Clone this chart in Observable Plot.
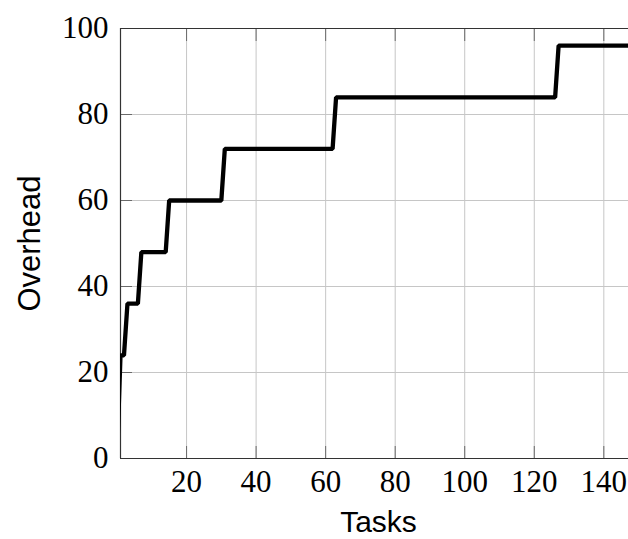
<!DOCTYPE html>
<html>
<head>
<meta charset="utf-8">
<script src="https://cdn.jsdelivr.net/npm/d3@7"></script>
<script src="https://cdn.jsdelivr.net/npm/@observablehq/plot@0.6"></script>
<style>
  html, body { margin: 0; padding: 0; background: #fff; }
  #chart svg { display: block; }
</style>
</head>
<body>
<div id="chart"></div>
<script>
// Step curve: overhead per number of tasks
const tasks    = [0, 1, 2, 3, 6, 7, 14, 15, 30, 31, 62, 63, 126, 127, 150];
const overhead = [0, 24, 24, 36, 36, 48, 48, 60, 60, 72, 72, 84, 84, 96, 96];

const xTicks = [20, 40, 60, 80, 100, 120, 140];
const yTicks = [0, 20, 40, 60, 80, 100];
const yInner = [20, 40, 60, 80];

const rows = tasks.map((t, i) => ({tasks: t, overhead: overhead[i]}));

const serif = "'Liberation Serif', 'DejaVu Serif', serif";
const sans = "'Liberation Sans', Arial, sans-serif";
const frameColor = "#333";
const tickColor = "#6a6a6a";
const tickLen = 12;

const chart = Plot.plot({
  width: 628,
  height: 539,
  marginLeft: 120,
  marginRight: 0,
  marginTop: 28,
  marginBottom: 81,
  style: {background: "#fff", overflow: "visible"},
  x: {domain: [1, 147.1], label: null},
  y: {domain: [0, 100], label: null},
  marks: [
    // grid
    Plot.gridX(xTicks, {stroke: "#c6c6c6", strokeOpacity: 1, strokeWidth: 1}),
    Plot.gridY(yInner, {stroke: "#c6c6c6", strokeOpacity: 1, strokeWidth: 1}),
    // inward ticks on bottom, top and left (shifted back inside the frame)
    Plot.axisX(xTicks, {anchor: "bottom", tickSize: tickLen, dy: -tickLen, text: null, label: null, stroke: tickColor, strokeWidth: 1}),
    Plot.axisX(xTicks, {anchor: "top", tickSize: tickLen, dy: tickLen, text: null, label: null, stroke: tickColor, strokeWidth: 1}),
    Plot.axisY(yInner, {anchor: "left", tickSize: tickLen, dx: tickLen, text: null, label: null, stroke: tickColor, strokeWidth: 1}),
    // tick labels
    Plot.axisX(xTicks, {anchor: "bottom", tickSize: 0, tickPadding: 11, fontSize: 31, fontFamily: serif, fill: "#000", label: null}),
    Plot.axisY(yTicks, {anchor: "left", tickSize: 0, tickPadding: 12, fontSize: 31, fontFamily: serif, fill: "#000", label: null}),
    // box edges
    Plot.ruleY([0, 100], {stroke: frameColor, strokeWidth: 1.2}),
    Plot.ruleX([1], {stroke: frameColor, strokeWidth: 1.2}),
    // the curve
    Plot.line(rows, {x: "tasks", y: "overhead", stroke: "#000", strokeWidth: 4.3, strokeLinejoin: "miter", clip: true}),
    // axis titles
    Plot.text(["Tasks"], {frameAnchor: "bottom", textAnchor: "middle", lineAnchor: "middle", dx: 4, dy: 64, fontSize: 30, fontFamily: sans, fill: "#000"}),
    Plot.text(["Overhead"], {frameAnchor: "left", textAnchor: "middle", lineAnchor: "middle", dx: -90, rotate: -90, fontSize: 31, fontFamily: sans, fill: "#000"})
  ]
});

document.getElementById("chart").appendChild(chart);
</script>
</body>
</html>
